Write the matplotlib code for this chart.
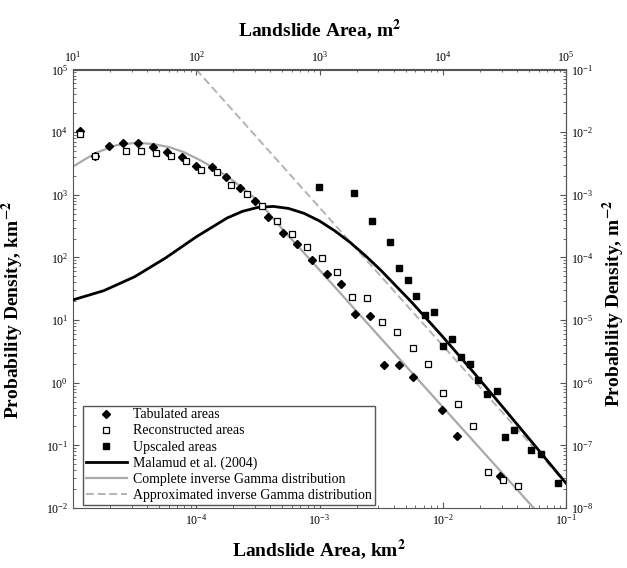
import matplotlib.pyplot as plt

plt.rcParams['font.family'] = ['Liberation Serif', 'DejaVu Serif']
plt.rcParams['mathtext.fontset'] = 'stix'

# tabulated areas (km2) and density (km-2)
tab_area = [1.15e-5, 1.51e-5, 1.97e-5, 2.56e-5, 3.35e-5, 4.44e-5, 5.75e-5, 7.62e-5,
            9.95e-5, 1.33e-4, 1.73e-4, 2.27e-4, 3.0e-4, 3.85e-4, 5.02e-4, 6.61e-4,
            8.77e-4, 1.14e-3, 1.49e-3, 1.94e-3, 2.57e-3, 3.36e-3, 4.42e-3, 5.77e-3,
            9.95e-3, 1.30e-2, 2.92e-2]
tab_pdf = [10400, 4150, 6070, 6780, 6620, 5710, 4860, 4050,
           2870, 2740, 1940, 1290, 802, 446, 242, 163,
           92.3, 54.1, 37.4, 12.4, 11.7, 1.91, 1.91, 1.25,
           0.373, 0.141, 0.0324]

# reconstructed areas
rec_area = [1.15e-5, 1.51e-5, 2.68e-5, 3.54e-5, 4.71e-5, 6.24e-5, 8.26e-5, 1.09e-4,
            1.47e-4, 1.91e-4, 2.57e-4, 3.40e-4, 4.52e-4, 5.94e-4, 7.87e-4, 1.04e-3,
            1.39e-3, 1.85e-3, 2.44e-3, 3.24e-3, 4.28e-3, 5.70e-3, 7.55e-3, 1.0e-2,
            1.32e-2, 1.75e-2, 2.34e-2, 3.10e-2, 4.06e-2]
rec_pdf = [9330, 4150, 5050, 5050, 4690, 4200, 3450, 2480,
           2280, 1410, 1030, 671, 380, 238, 149, 99.3,
           59.3, 23.0, 22.4, 9.36, 6.48, 3.52, 1.98, 0.697,
           0.458, 0.202, 0.0376, 0.0284, 0.0222]

# upscaled areas
up_area = [9.84e-4, 1.90e-3, 2.68e-3, 3.73e-3, 4.42e-3, 5.20e-3, 6.12e-3, 7.18e-3,
           8.53e-3, 1.0e-2, 1.18e-2, 1.41e-2, 1.66e-2, 1.95e-2, 2.30e-2, 2.74e-2,
           3.21e-2, 3.81e-2, 5.24e-2, 6.24e-2, 8.67e-2]
up_pdf = [1340, 1050, 385, 174, 66.7, 43.4, 24.4, 12.1,
          13.4, 3.85, 4.95, 2.60, 1.98, 1.12, 0.672, 0.732,
          0.136, 0.174, 0.0836, 0.0721, 0.0255]

# Malamud et al. (2004) curve
mal_area = [1.0e-5, 1.78e-5, 3.16e-5, 5.62e-5, 1.0e-4, 1.78e-4, 2.37e-4, 3.16e-4,
            4.22e-4, 5.62e-4, 7.5e-4, 1.0e-3, 1.33e-3, 1.78e-3, 2.37e-3, 3.16e-3,
            5.62e-3, 1.0e-2, 1.78e-2, 3.16e-2, 5.62e-2, 0.1]
mal_pdf = [21.0, 29.5, 49.1, 97.6, 213, 426, 544, 629,
           652, 605, 505, 382, 266, 172.5, 105.7, 61.8,
           19.1, 5.42, 1.46, 0.381, 0.0978, 0.0249]

# complete inverse Gamma curve
gam_area = [1.0e-5, 1.26e-5, 1.58e-5, 2.24e-5, 3.29e-5, 4.47e-5, 6.12e-5, 7.94e-5,
            1.07e-4, 1.41e-4, 1.88e-4, 2.51e-4, 3.29e-4, 5.01e-4, 1.0e-3, 3.16e-3,
            1.0e-2, 3.16e-2, 6.31e-2]
gam_pdf = [2820, 3720, 4790, 6170, 6780, 6460, 5720, 4790,
           3580, 2630, 1830, 1175, 741, 282, 63.1, 5.08,
           0.410, 0.0331, 0.00731]

# approximated inverse Gamma (power law)
apx_area = [1.0e-4, 0.1]
apx_pdf = [1.0e5, 0.0245]

# axis ticks
km_ticks = [1e-4, 1e-3, 1e-2, 1e-1]
m_ticks = [1e1, 1e2, 1e3, 1e4, 1e5]
km_pdf_ticks = [1e-2, 1e-1, 1e0, 1e1, 1e2, 1e3, 1e4, 1e5]
m_pdf_ticks = [1e-8, 1e-7, 1e-6, 1e-5, 1e-4, 1e-3, 1e-2, 1e-1]

fig = plt.figure(figsize=(6.27, 5.68), dpi=100)
ax = fig.add_axes([73 / 627, 1 - 508 / 568, 493 / 627, 438.5 / 568])
ax.set_xscale('log')
ax.set_yscale('log')

ax.plot(mal_area, mal_pdf, color='black', lw=2.0, label='Malamud et al. (2004)', zorder=3)
ax.plot(gam_area, gam_pdf, color='#a9a9a9', lw=1.6, label='Complete inverse Gamma distribution', zorder=2)
ax.plot(apx_area, apx_pdf, color='#b3b3b3', lw=1.4, ls=(0, (4, 2)),
        label='Approximated inverse Gamma distribution', zorder=2)

h_tab, = ax.plot(tab_area, tab_pdf, ls='none', marker='D', ms=3.8, color='black',
                 label='Tabulated areas', zorder=5)
h_rec, = ax.plot(rec_area, rec_pdf, ls='none', marker='s', ms=4.2, mfc='white', mec='black',
                 mew=0.9, label='Reconstructed areas', zorder=5)
h_up, = ax.plot(up_area, up_pdf, ls='none', marker='s', ms=4.5, color='black',
                label='Upscaled areas', zorder=5)

ax.set_xlim(1e-5, 1e-1)
ax.set_ylim(1e-2, 1e5)
ax.set_xticks(km_ticks)
ax.set_yticks(km_pdf_ticks)

for s in ax.spines.values():
    s.set_color('#555555')
ax.tick_params(which='both', direction='in', colors='#555555', labelcolor='black', labelsize=8.5)
ax.tick_params(which='major', length=4)
ax.tick_params(which='minor', length=2)

secx = ax.secondary_xaxis('top', functions=(lambda a: a * 1e6, lambda a: a / 1e6))
secy = ax.secondary_yaxis('right', functions=(lambda p: p * 1e-6, lambda p: p / 1e-6))
secx.set_xticks(m_ticks)
secy.set_yticks(m_pdf_ticks)
for sec in (secx, secy):
    sec.tick_params(which='both', direction='in', colors='#555555', labelcolor='black', labelsize=8.5)
    sec.tick_params(which='major', length=4)
    sec.tick_params(which='minor', length=2)
    for s in sec.spines.values():
        s.set_color('#555555')

ax.set_xlabel('Landslide Area, km$^\\mathbf{2}$', fontsize=14, fontweight='bold', labelpad=7)
secx.set_xlabel('Landslide Area, m$^\\mathbf{2}$', fontsize=14, fontweight='bold', labelpad=10)
fig.text(13 / 627, 1 - 310 / 568, 'Probability Density, km$^\\mathbf{-2}$', rotation=90,
         ha='center', va='center', fontsize=14, fontweight='bold')
fig.text(614 / 627, 1 - 303 / 568, 'Probability Density, m$^\\mathbf{-2}$', rotation=90,
         ha='center', va='center', fontsize=14, fontweight='bold')

handles = [h_tab, h_rec, h_up] + ax.lines[:3]
leg = ax.legend(handles=handles, loc='lower left', bbox_to_anchor=(0.02, 0.007),
                borderaxespad=0, fontsize=10, fancybox=False, edgecolor='#555555',
                framealpha=1, handlelength=3, handletextpad=0.4, borderpad=0.2,
                labelspacing=0.22)
leg.get_frame().set_linewidth(1.0)

fig.savefig('out.png', dpi=100)
